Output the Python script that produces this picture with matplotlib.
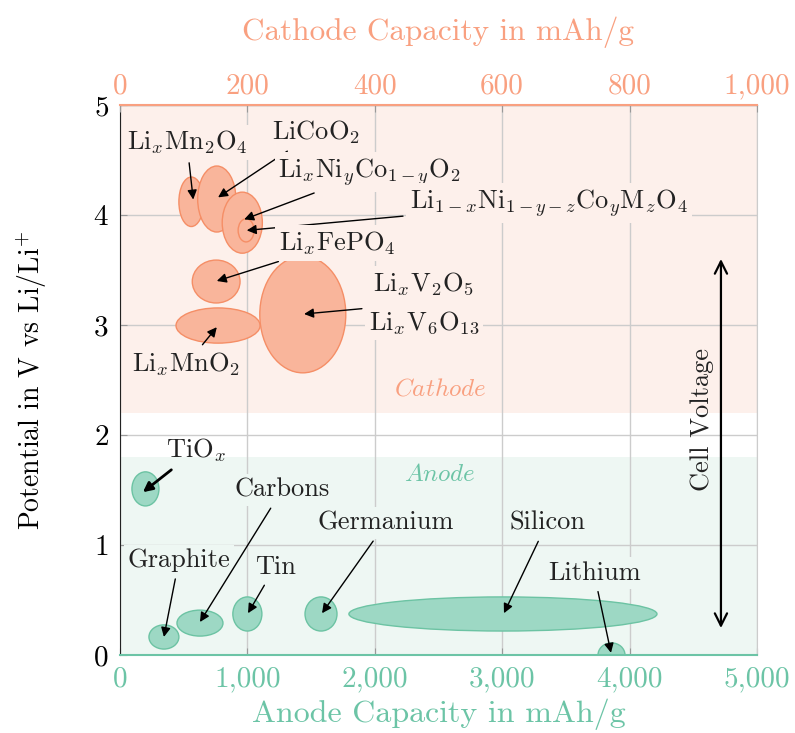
import numpy as np
import matplotlib
matplotlib.use("Agg")
import matplotlib.pyplot as plt
from matplotlib.patches import Ellipse

plt.rcParams['font.family'] = 'cmr10'
plt.rcParams['mathtext.fontset'] = 'cm'
plt.rcParams['axes.formatter.use_mathtext'] = True

# colours
c_orange = '#f9a080'
c_green = '#6cc4a6'
cath_bg = '#fdf0eb'
anode_bg = '#eef7f3'

# cathode materials (capacity in mAh/g, potential in V)
cath_names = [r'$\mathrm{Li}_x\mathrm{Mn}_2\mathrm{O}_4$',
              r'$\mathrm{LiCoO}_2$',
              r'$\mathrm{Li}_x\mathrm{Ni}_y\mathrm{Co}_{1-y}\mathrm{O}_2$',
              r'$\mathrm{Li}_{1-x}\mathrm{Ni}_{1-y-z}\mathrm{Co}_y\mathrm{M}_z\mathrm{O}_4$',
              r'$\mathrm{Li}_x\mathrm{FePO}_4$',
              r'$\mathrm{Li}_x\mathrm{MnO}_2$',
              r'$\mathrm{Li}_x\mathrm{V}_2\mathrm{O}_5$' + '\n' + r'$\mathrm{Li}_x\mathrm{V}_6\mathrm{O}_{13}$']
cath_cap = [112, 152, 192, 198, 151, 154, 287]
cath_v = [4.12, 4.145, 3.93, 3.86, 3.395, 2.995, 3.095]
cath_dcap = [39, 60, 63, 25, 75, 132, 135]
cath_dv = [0.45, 0.60, 0.555, 0.21, 0.39, 0.32, 1.06]
cath_label_x = [105, 308, 392, 673, 341, 104, 477]
cath_label_y = [4.66, 4.755, 4.39, 4.11, 3.745, 2.64, 3.2]
cath_arrow_x = [115, 154, 195, 199, 152, 152, 289]
cath_arrow_y = [4.14, 4.16, 3.96, 3.86, 3.40, 2.98, 3.10]

# anode materials
anode_names = [r'$\mathrm{TiO}_x$', 'Graphite', 'Carbons', 'Tin', 'Germanium', 'Silicon', 'Lithium']
anode_cap = [200, 345, 628, 1000, 1578, 3006, 3858]
anode_v = [1.51, 0.164, 0.29, 0.373, 0.373, 0.373, 0.0]
anode_dcap = [212, 235, 361, 228, 251, 2418, 212]
anode_dv = [0.31, 0.22, 0.236, 0.31, 0.31, 0.31, 0.22]
anode_label_x = [597, 463, 1272, 1217, 2088, 3352, 3721]
anode_label_y = [1.86, 0.86, 1.5, 0.80, 1.2, 1.2, 0.745]
anode_arrow_x = [180, 345, 628, 1005, 1586, 3014, 3854]
anode_arrow_y = [1.48, 0.164, 0.30, 0.38, 0.38, 0.38, 0.02]

anode_ticks = [0, 1000, 2000, 3000, 4000, 5000]
anode_ticklabels = ['0', '1,000', '2,000', '3,000', '4,000', '5,000']
cath_ticks = [0, 200, 400, 600, 800, 1000]
cath_ticklabels = ['0', '200', '400', '600', '800', '1,000']
v_ticks = [0, 1, 2, 3, 4, 5]

fig = plt.figure(figsize=(7.95, 7.33), dpi=100)
ax = fig.add_axes([0.1509, 0.1064, 0.8013, 0.7504])
ax.set_xlim(0, 5000)
ax.set_ylim(0, 5)
ax.set_axisbelow(True)
ax.grid(True, color='#cccccc', lw=1)

ax.axhspan(2.2, 5, color=cath_bg, zorder=0, lw=0)
ax.axhspan(0, 1.8, color=anode_bg, zorder=0, lw=0)

ax.set_xticks(anode_ticks)
ax.set_xticklabels(anode_ticklabels)
ax.set_yticks(v_ticks)
ax.tick_params(axis='x', colors=c_green, labelsize=21, direction='in', length=5, pad=8)
ax.tick_params(axis='x', color='#999999')
ax.tick_params(axis='y', labelsize=21, direction='in', length=5, color='#999999', pad=8)
ax.set_xlabel('Anode Capacity in mAh/g', color=c_green, fontsize=23, labelpad=4)
ax.set_ylabel(r'Potential in V vs Li/Li$^{+}$', fontsize=20, labelpad=32)

ax.spines['bottom'].set_color(c_green)
ax.spines['bottom'].set_linewidth(1.5)
ax.spines['left'].set_color('#222222')
ax.spines['right'].set_color('#cccccc')

# anode ellipses
for x, y, w, h in zip(anode_cap, anode_v, anode_dcap, anode_dv):
    ax.add_patch(Ellipse((x, y), w, h, facecolor='#9dd8c4', edgecolor='#6cc3a3', lw=1, zorder=2))

for name, tx, ty, hx, hy in zip(anode_names, anode_label_x, anode_label_y, anode_arrow_x, anode_arrow_y):
    lw = 2 if name.startswith('$') else 1
    box_fc = 'none' if name.startswith('$') else anode_bg
    ax.annotate(name, xy=(hx, hy), xytext=(tx, ty), fontsize=19, ha='center', va='center',
                color='#222222', zorder=5,
                bbox=dict(boxstyle='square,pad=0.15', fc=box_fc, ec='none'),
                arrowprops=dict(arrowstyle='-|>', color='black', lw=lw, mutation_scale=14,
                                shrinkA=2, shrinkB=0))

ax.text(2512, 1.64, r'$\mathit{Anode}$', color=c_green, fontsize=18, ha='center', va='center')
ax.text(2512, 2.41, r'$\mathit{Cathode}$', color=c_orange, fontsize=18, ha='center', va='center')

# cell voltage arrow
ax.annotate('', xy=(4717, 0.245), xytext=(4717, 3.6),
            arrowprops=dict(arrowstyle='<->', color='black', lw=1.6, mutation_scale=22,
                            shrinkA=0, shrinkB=0))
ax.text(4570, 2.14, 'Cell Voltage', rotation=90, fontsize=19, ha='center', va='center', color='#222222')

# cathode axis
axc = ax.twiny()
axc.set_xlim(0, 1000)
axc.set_xticks(cath_ticks)
axc.set_xticklabels(cath_ticklabels)
axc.tick_params(axis='x', colors=c_orange, labelsize=21, direction='in', length=5, pad=4)
axc.tick_params(axis='x', color='#999999')
axc.set_xlabel('Cathode Capacity in mAh/g', color=c_orange, fontsize=22.5, labelpad=24)
axc.spines['top'].set_color(c_orange)
axc.spines['top'].set_linewidth(1.5)
axc.spines['bottom'].set_visible(False)
axc.spines['left'].set_visible(False)
axc.spines['right'].set_visible(False)

for x, y, w, h in zip(cath_cap, cath_v, cath_dcap, cath_dv):
    axc.add_patch(Ellipse((x, y), w, h, facecolor='#f9b59b', edgecolor='#f58e66', lw=1, zorder=2))

for name, tx, ty, hx, hy in zip(cath_names, cath_label_x, cath_label_y, cath_arrow_x, cath_arrow_y):
    axc.annotate(name, xy=(hx, hy), xytext=(tx, ty), fontsize=19, ha='center', va='center',
                 color='#222222', zorder=5, linespacing=1.6,
                 bbox=dict(boxstyle='square,pad=0.15', fc=cath_bg, ec='none'),
                 arrowprops=dict(arrowstyle='-|>', color='black', lw=1, mutation_scale=14,
                                 shrinkA=2, shrinkB=0))

fig.savefig('out.png', dpi=100)
